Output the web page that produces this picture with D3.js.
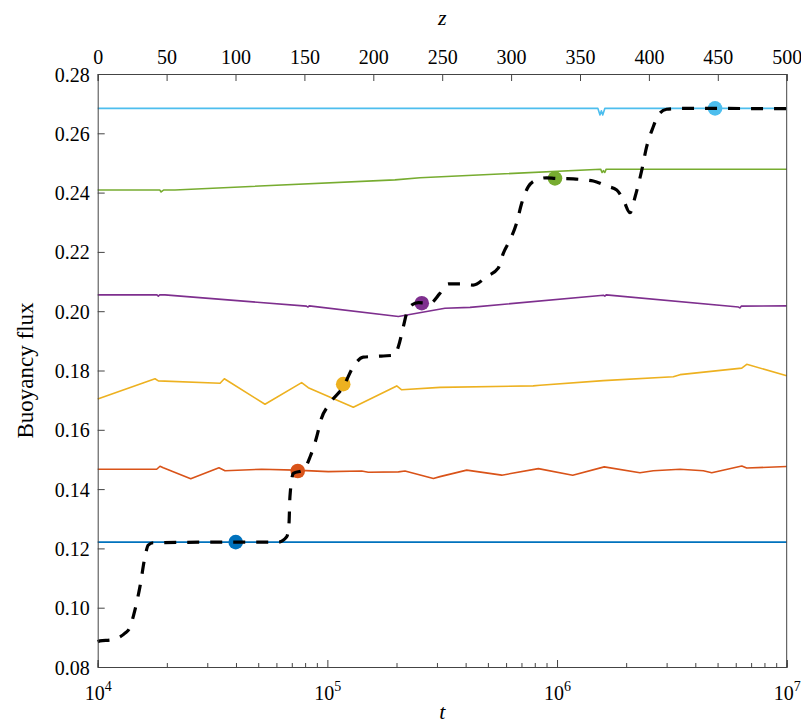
<!DOCTYPE html>
<html>
<head>
<meta charset="utf-8">
<script src="https://d3js.org/d3.v7.min.js"></script>
<style>
  body { margin: 0; background: #fff; }
  text { font-family: "Liberation Serif", "Times New Roman", serif; fill: #000; }
</style>
</head>
<body>
<div id="chart"></div>
<script>
// profile lines, plotted against z (top axis)
var blueZ = [0, 100, 200, 300, 400, 500];
var blueF = [0.1221, 0.1221, 0.1221, 0.1221, 0.1221, 0.1221];

var orangeZ = [0, 42.8, 45.2, 47.6, 67.5, 88, 92.4, 119, 143.2, 167.3, 191.6, 196.4, 218.2, 223, 243.6, 248.4, 267.8, 293.2, 319.8, 344.7, 367.6, 393.5, 403.2, 422.6, 439.5, 445.6, 467.4, 471, 500];
var orangeF = [0.1467, 0.1467, 0.1477, 0.1472, 0.1435, 0.1472, 0.1462, 0.1467, 0.1464, 0.1459, 0.1461, 0.1457, 0.1458, 0.1461, 0.1436, 0.1442, 0.1464, 0.1447, 0.1469, 0.1447, 0.1475, 0.1455, 0.1462, 0.1467, 0.1462, 0.1455, 0.1478, 0.1471, 0.1476];

var yellowZ = [0, 41.6, 44, 88.8, 91.9, 121.4, 148, 152.8, 185.5, 217, 220.6, 248.4, 316, 321, 366.9, 417.7, 422.6, 467.4, 471, 500];
var yellowF = [0.1704, 0.1772, 0.1765, 0.1757, 0.1772, 0.1686, 0.1759, 0.1742, 0.1676, 0.1748, 0.1735, 0.1743, 0.1748, 0.1750, 0.1766, 0.1779, 0.1786, 0.1808, 0.1821, 0.1782];

var purpleZ = [0, 43, 44, 45, 48.8, 151.5, 152.5, 153.5, 218.2, 252, 270.2, 367, 368, 369, 465, 466, 467, 500];
var purpleF = [0.2055, 0.2055, 0.2051, 0.2055, 0.2055, 0.2017, 0.2014, 0.2018, 0.1982, 0.2010, 0.2013, 0.2054, 0.2051, 0.2055, 0.2014, 0.2011, 0.2017, 0.2018];

var greenZ = [0, 45, 46, 47, 48, 56, 215.7, 233.9, 365, 366, 367, 368, 369, 500];
var greenF = [0.2409, 0.2409, 0.2402, 0.2406, 0.2409, 0.2409, 0.2443, 0.2450, 0.2479, 0.2468, 0.2474, 0.2468, 0.2479, 0.2479];

var lightZ = [0, 363, 364.5, 365.5, 366.5, 368, 500];
var lightF = [0.2684, 0.2684, 0.2662, 0.2676, 0.2662, 0.2684, 0.2684];

// time history (dashed), plotted against t (bottom axis), given as log10(t)
var dashLogT = [4.0, 4.01, 4.06, 4.119, 4.138, 4.162, 4.184, 4.206, 4.220, 4.242, 4.5, 4.786, 4.823, 4.833, 4.837, 4.852, 4.895, 4.925, 4.961, 4.968, 5.011, 5.069, 5.113, 5.156, 5.244, 5.294, 5.309, 5.331, 5.345, 5.367, 5.396, 5.447, 5.490, 5.527, 5.577, 5.635, 5.694, 5.744, 5.766, 5.795, 5.824, 5.846, 5.875, 5.911, 5.955, 5.991, 6.071, 6.158, 6.216, 6.260, 6.289, 6.318, 6.340, 6.369, 6.390, 6.419, 6.441, 6.477, 6.535, 7.0];
var dashF = [0.0885, 0.0888, 0.0892, 0.0914, 0.0930, 0.0992, 0.1071, 0.1172, 0.1211, 0.1219, 0.1221, 0.1221, 0.1239, 0.1285, 0.1374, 0.1453, 0.1464, 0.1509, 0.1599, 0.1622, 0.1689, 0.1745, 0.1813, 0.1845, 0.1849, 0.1852, 0.1880, 0.1948, 0.1993, 0.2021, 0.2029, 0.2027, 0.2060, 0.2092, 0.2092, 0.2088, 0.2117, 0.2145, 0.2195, 0.2240, 0.2297, 0.2364, 0.2420, 0.2443, 0.2450, 0.2448, 0.2446, 0.2439, 0.2422, 0.2409, 0.2375, 0.2332, 0.2386, 0.2476, 0.2554, 0.2622, 0.2662, 0.2681, 0.2684, 0.2683];

// markers where the history meets each profile
var markLogT = [4.601, 4.871, 5.069, 5.411, 5.991, 6.688];
var markF = [0.1221, 0.1461, 0.1754, 0.2027, 0.2448, 0.2684];
var colors = ["#0072BD", "#D95319", "#EDB120", "#7E2F8E", "#77AC30", "#4DBEEE"];

var zTicks = [0, 50, 100, 150, 200, 250, 300, 350, 400, 450, 500];
var yTicks = [0.08, 0.10, 0.12, 0.14, 0.16, 0.18, 0.20, 0.22, 0.24, 0.26, 0.28];
var tMajor = [4, 5, 6, 7];

var W = 801, H = 724;
var mLeft = 97.7, mRight = 786.7, mTop = 74, mBottom = 667;

var svg = d3.select("#chart").append("svg")
  .attr("width", W)
  .attr("height", H);

var z = d3.scaleLinear().domain([0, 500]).range([mLeft, mRight]);
var t = d3.scaleLog().domain([1e4, 1e7]).range([mLeft, mRight]);
var y = d3.scaleLinear().domain([0.08, 0.28]).range([mBottom, mTop]);

var axisColor = "#444";

// profile lines
var profiles = [
  [blueZ, blueF], [orangeZ, orangeF], [yellowZ, yellowF],
  [purpleZ, purpleF], [greenZ, greenF], [lightZ, lightF]
];
var zline = d3.line()
  .x(function(d) { return z(d[0]); })
  .y(function(d) { return y(d[1]); });

profiles.forEach(function(p, i) {
  var pts = p[0].map(function(v, k) { return [v, p[1][k]]; });
  svg.append("path")
    .datum(pts)
    .attr("d", zline)
    .attr("fill", "none")
    .attr("stroke", colors[i])
    .attr("stroke-width", 1.6)
    .attr("stroke-linejoin", "round");
});

// markers
svg.selectAll("circle.mark")
  .data(markLogT)
  .enter()
  .append("circle")
  .attr("class", "mark")
  .attr("cx", function(d) { return t(Math.pow(10, d)); })
  .attr("cy", function(d, i) { return y(markF[i]); })
  .attr("r", 7.3)
  .attr("fill", function(d, i) { return colors[i]; });

// dashed history
var dashPts = dashLogT.map(function(v, k) { return [Math.pow(10, v), dashF[k]]; });
svg.append("path")
  .datum(dashPts)
  .attr("d", d3.line()
    .x(function(d) { return t(d[0]); })
    .y(function(d) { return y(d[1]); })
    .curve(d3.curveMonotoneX))
  .attr("fill", "none")
  .attr("stroke", "#000")
  .attr("stroke-width", 3.2)
  .attr("stroke-dasharray", "12,11");

// right edge of the frame
svg.append("path")
  .attr("d", "M" + mRight + "," + mTop + "V" + mBottom)
  .attr("stroke", axisColor)
  .attr("fill", "none");

// top axis (z)
var topAxis = svg.append("g")
  .attr("transform", "translate(0," + mTop + ")")
  .call(d3.axisTop(z).tickValues(zTicks).tickSize(-7).tickPadding(10).tickFormat(d3.format("d")));

// bottom axis (t), log with minor ticks
var minor = [];
for (var e = 4; e < 7; e++) {
  for (var m = 2; m <= 9; m++) minor.push(m * Math.pow(10, e));
}
var botMinor = svg.append("g")
  .attr("transform", "translate(0," + mBottom + ")")
  .call(d3.axisBottom(t).tickValues(minor).tickSize(-4).tickFormat(""));
var botAxis = svg.append("g")
  .attr("transform", "translate(0," + mBottom + ")")
  .call(d3.axisBottom(t).tickValues(tMajor.map(function(k) { return Math.pow(10, k); })).tickSize(-7).tickFormat(""));

botAxis.selectAll(".tick").each(function(d, i) {
  var txt = d3.select(this).append("text")
    .attr("y", 33)
    .attr("text-anchor", "middle")
    .style("font-size", "20px");
  txt.append("tspan").text("10");
  txt.append("tspan").attr("dy", -9).style("font-size", "14px").text(tMajor[i]);
});

// left axis (y)
var leftAxis = svg.append("g")
  .attr("transform", "translate(" + mLeft + ",0)")
  .call(d3.axisLeft(y).tickValues(yTicks).tickSize(-7).tickPadding(8).tickFormat(d3.format(".2f")));

[topAxis, botMinor, botAxis, leftAxis].forEach(function(a) {
  a.select(".domain").attr("stroke", axisColor);
  a.selectAll(".tick line").attr("stroke", axisColor);
  a.selectAll(".tick text").style("font-size", "20px").attr("fill", "#000")
    .style("font-family", "'Liberation Serif', 'Times New Roman', serif");
});
leftAxis.selectAll(".tick text").attr("dy", "0.35em");

// axis titles
svg.append("text")
  .attr("x", (mLeft + mRight) / 2)
  .attr("y", 25)
  .attr("text-anchor", "middle")
  .style("font-size", "22px")
  .style("font-style", "italic")
  .text("z");

svg.append("text")
  .attr("x", (mLeft + mRight) / 2)
  .attr("y", 719)
  .attr("text-anchor", "middle")
  .style("font-size", "22px")
  .style("font-style", "italic")
  .text("t");

svg.append("text")
  .attr("transform", "translate(33," + ((mTop + mBottom) / 2) + ") rotate(-90)")
  .attr("text-anchor", "middle")
  .style("font-size", "23px")
  .text("Buoyancy flux");
</script>
</body>
</html>
